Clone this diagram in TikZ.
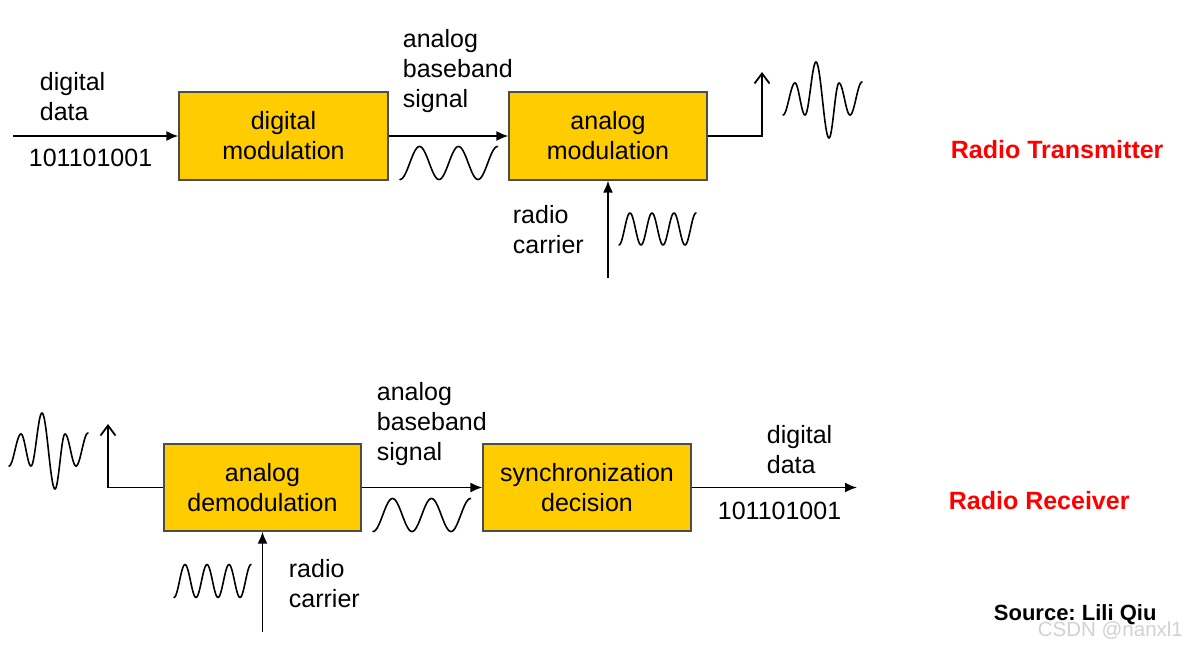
\documentclass[tikz,border=0pt]{standalone}
\usepackage{fontspec}
\setmainfont{Liberation Sans}
\usepackage{tikz}
\usetikzlibrary{arrows.meta,positioning,calc}
\definecolor{gold}{HTML}{FFCC00}
\definecolor{radiored}{HTML}{FF0000}
\tikzstyle{block} = [draw=black!70, line width=1.2pt, fill=gold, rectangle, align=center, inner sep=0pt]
\tikzstyle{txt} = [align=left, anchor=north west, inner sep=0pt]
\tikzstyle{title} = [anchor=base west, inner sep=0pt, text=radiored, font=\fontsize{25}{30}\selectfont\bfseries]
\tikzstyle{input} = [coordinate]
\tikzstyle{output} = [coordinate]
\tikzstyle{wave} = [line width=1.6pt, line join=round, line cap=round]
\tikzstyle{barb} = [-{Straight Barb[length=10pt,width=15pt]}]

% burst wave: half-cosine pieces between the extrema
\newcommand{\burstwave}[2]{%
  \foreach \xa/\ya/\xb/\yb in {0/15/12/-17, 12/-17/22/15, 22/15/33/-38, 33/-38/46/38,
                               46/38/56/-17, 56/-17/67/15, 67/15/79/-18}
    \draw [wave] plot [domain=0:1, samples=20]
      ({#1+\xa+(\xb-\xa)*\x},{#2+(\ya+\yb)/2+(\ya-\yb)/2*cos(180*\x)});
}

\begin{document}
\begin{tikzpicture}[x=1pt, y=-1pt, >={Latex[length=12pt,width=10pt]},
    font=\fontsize{25}{30}\selectfont, line width=1.8pt]
    \useasboundingbox (0,0) rectangle (1188,645);

    % Transmitter
    \node [input] (txin) at (13,136) {};
    \node [block, minimum width=209pt, minimum height=88pt] (dmod) at (283.5,136) {digital\\modulation};
    \node [block, minimum width=198pt, minimum height=88pt] (amod) at (608,136) {analog\\modulation};
    \node [output] (txout) at (762,72) {};
    \node [input] (txcar) at (608,278) {};
    \node [txt] (txdata) at (39,71) {digital\\data};
    \node [txt] (txbits) at (28,148) {101101001};
    \node [txt] (txbase) at (402,28) {analog\\baseband\\signal};
    \node [txt] (txradio) at (512,204) {radio\\carrier};
    \node [title] (txtitle) at (950,158) {Radio Transmitter};

    \draw [->] (txin) -- (dmod);
    \draw [->] (dmod) -- (amod);
    \draw [barb] (amod.east) -| (txout);
    \draw [->] (txcar) -- (amod);

    % Transmitter waves
    \draw [wave] plot [domain=0:97.5, samples=120] ({400+\x},{163-16.5*sin(-90+(\x/39)*360)});
    \draw [wave] plot [domain=0:77, samples=120] ({619+\x},{229-16*sin(-90+(\x/22)*360)});
    \burstwave{783}{100}

    % Receiver
    \node [output] (rxin) at (108,424) {};
    \node [block, minimum width=197pt, minimum height=87pt] (ademod) at (262.5,487.5) {analog\\demodulation};
    \node [block, minimum width=208pt, minimum height=87pt] (sync) at (587,487.5) {synchronization\\decision};
    \node [output] (rxout) at (857,487.5) {};
    \node [input] (rxcar) at (262.5,632) {};
    \node [txt] (rxbase) at (376,381) {analog\\baseband\\signal};
    \node [txt] (rxdata) at (766,424) {digital\\data};
    \node [txt] (rxbits) at (717,501) {101101001};
    \node [txt] (rxradio) at (288,558) {radio\\carrier};
    \node [title] (rxtitle) at (948,509) {Radio Receiver};

    \draw [barb] (ademod.west) -| (rxin);
    \draw [->] (ademod) -- (sync);
    \draw [->] (sync) -- (rxout);
    \draw [->] (rxcar) -- (ademod);

    % Receiver waves
    \burstwave{9}{451}
    \draw [wave] plot [domain=0:97.5, samples=120] ({373+\x},{515-16.5*sin(-90+(\x/39)*360)});
    \draw [wave] plot [domain=0:77, samples=120] ({174+\x},{581-16.5*sin(-90+(\x/22)*360)});

    % Source
    \node [anchor=base west, inner sep=0pt, font=\fontsize{22}{26}\selectfont\bfseries] (source) at (993,620) {Source:\ Lili Qiu};
    \node [anchor=base west, inner sep=0pt, text=black!18, font=\fontsize{20.5}{24}\selectfont] (mark) at (1037,636) {CSDN @nanxl1};
\end{tikzpicture}
\end{document}
